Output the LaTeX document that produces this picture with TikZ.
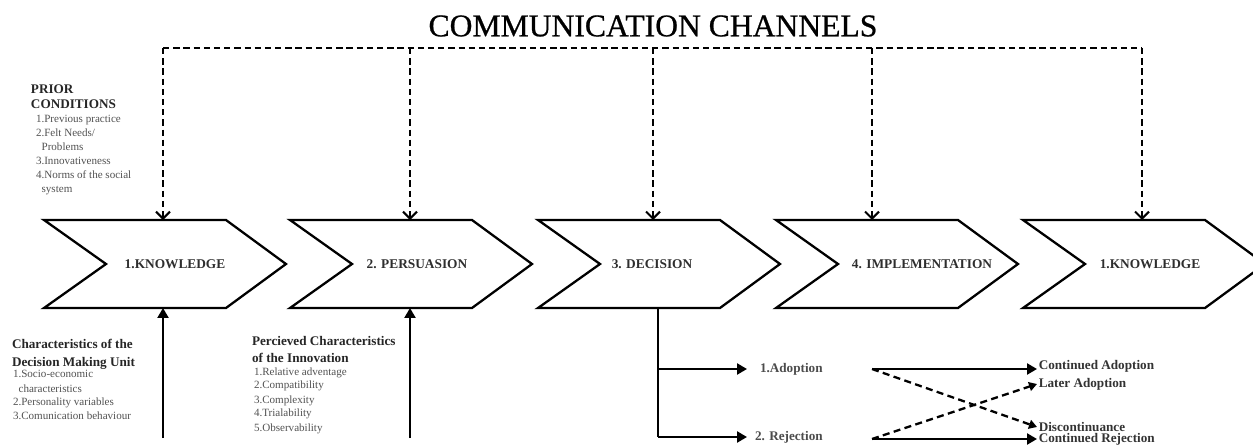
\documentclass[tikz,border=0pt]{standalone}
\usepackage{fontspec}
\setmainfont{Liberation Serif}
\newfontfamily\titlefont[FakeBold=0.7]{Liberation Serif}
\usetikzlibrary{arrows.meta}

\begin{document}
\begin{tikzpicture}[x=0.02cm,y=-0.02cm,
  every node/.style={inner sep=0pt,outer sep=0pt},
  chevbox/.style={minimum width=4.84cm,minimum height=1.76cm},
  chevline/.style={line width=1.3pt,line join=miter},
  stagelab/.style={font=\fontsize{7.6}{9}\selectfont\bfseries,text=black!82},
  headtxt/.style={anchor=base west,font=\fontsize{7.5}{9}\selectfont\bfseries,text=black!85},
  listtxt/.style={anchor=base west,font=\fontsize{6.3}{7}\selectfont,text=black!68},
  outtxt/.style={anchor=west,font=\fontsize{7.5}{9}\selectfont\bfseries,text=black!80},
  chanline/.style={dash pattern=on 3.6pt off 2.2pt,line width=1.5pt},
  chanarrow/.style={chanline,-{Straight Barb[length=0.14cm,width=0.28cm,line width=1.2pt]}},
  inarrow/.style={line width=1.3pt,-{Triangle[length=0.2cm,width=0.22cm]}},
  swarrow/.style={line width=1.3pt,dash pattern=on 4pt off 2.5pt,-{Triangle[length=0.16cm,width=0.18cm]}}]
\useasboundingbox (0,0) rectangle (1253,446);
% title and channel bus
\node[font=\titlefont\fontsize{18}{20}\selectfont] (title) at (653,26) {COMMUNICATION CHANNELS};
\foreach \x [count=\i] in {163,410,653,872,1142} {\coordinate (bus\i) at (\x,48);}
% stages
\foreach \x/\tx/\lab [count=\i] in {44/175/{1.KNOWLEDGE},290/417/{2. PERSUASION},538/652/{3. DECISION},776/922/{4. IMPLEMENTATION},1023/1150/{1.KNOWLEDGE}} {
  \node[chevbox] (c\i) at (\x+121,264) {};
  \draw[chevline] (c\i.north west) -- ([xshift=-1.2cm]c\i.north east) -- (c\i.east) -- ([xshift=-1.2cm]c\i.south east) -- (c\i.south west) -- ([xshift=1.24cm]c\i.west) -- cycle;
  \node[stagelab] (t\i) at (\tx,264) {\lab};
}
\draw[chanline] (bus1) -- (bus5);
\foreach \i in {1,...,5} {\draw[chanarrow] (bus\i) -- (bus\i |- c\i.north);}
% prior conditions
\node[headtxt] (prior) at (31,93) {PRIOR};
\node[headtxt] (cond) at (31,109) {CONDITIONS};
\foreach \y/\t [count=\k] in {122/{1.Previous practice},136/{2.Felt Needs/},150/{\hspace*{3.2pt}Problems},164/{3.Innovativeness},178/{4.Norms of the social},192/{\hspace*{3.2pt}system}} {\node[listtxt] (pc\k) at (36,\y) {\t};}
% decision making unit
\node[headtxt] (dmu1) at (12,348) {Characteristics of the};
\node[headtxt] (dmu2) at (12,366) {Decision Making Unit};
\foreach \y/\t [count=\k] in {377/{1.Socio-economic},392/{\hspace*{3.2pt}characteristics},405/{2.Personality variables},419/{3.Comunication behaviour}} {\node[listtxt] (du\k) at (13,\y) {\t};}
% innovation
\node[headtxt] (inn1) at (252,345) {Percieved Characteristics};
\node[headtxt] (inn2) at (252,362) {of the Innovation};
\foreach \y/\t [count=\k] in {375/{1.Relative adventage},388/{2.Compatibility},403/{3.Complexity},416/{4.Trialability},431/{5.Observability}} {\node[listtxt] (in\k) at (254,\y) {\t};}
\coordinate (up1) at (163,438);
\coordinate (up2) at (410,438);
\draw[inarrow] (up1) -- (up1 |- c1.south);
\draw[inarrow] (up2) -- (up2 |- c2.south);
% decision outcomes
\coordinate (d1) at (658,369);
\coordinate (d2) at (658,437);
\node[outtxt,inner xsep=0.26cm,text=black!70] (adopt) at (747,369) {1.Adoption};
\node[outtxt,inner xsep=0.16cm,text=black!70] (reject) at (747,437) {2. Rejection};
\draw[line width=1.3pt] (d2 |- c3.south) -- (d2);
\draw[inarrow] (d1) -- (adopt.west);
\draw[inarrow] (d2) -- (reject.west);
% implementation outcomes
\coordinate (i1) at (872,369);
\coordinate (i2) at (872,439);
\node[outtxt,inner xsep=1pt] (cadopt) at (1037,366) {Continued Adoption};
\node[outtxt,inner xsep=1pt] (later) at (1037,384) {Later Adoption};
\node[outtxt,inner xsep=1pt] (discont) at (1037,427) {Discontinuance};
\node[outtxt,inner xsep=1pt] (crej) at (1037,439) {Continued Rejection};
\draw[inarrow] (i1) -- (i1 -| cadopt.west);
\draw[swarrow] (i1) -- (discont.west);
\draw[swarrow] (i2) -- (later.west);
\draw[inarrow] (i2) -- (i2 -| crej.west);
\end{tikzpicture}
\end{document}
